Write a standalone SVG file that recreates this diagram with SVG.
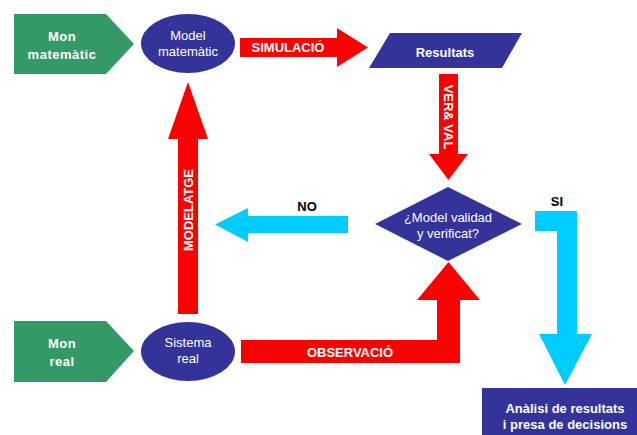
<svg xmlns="http://www.w3.org/2000/svg" width="637" height="435" viewBox="0 0 637 435">
<style>
.green{fill:#339966}
.navy{fill:#333399}
.red{fill:#ff0000}
.cyan{fill:#00ccff}
text{font-family:"Liberation Sans",Arial,sans-serif;font-size:13px;text-anchor:middle}
.wb{fill:#ffffff;font-weight:bold}
.wn{fill:#ffffff}
.kb{fill:#000000;font-weight:bold}
</style>
<rect width="637" height="435" fill="#ffffff"/>
<g id="connectors">
  <g id="simulacio">
    <polygon class="red" points="240,38 337,38 337,28 368,47.5 337,67 337,57 240,57"/>
    <text class="wb" x="288" y="52">SIMULACIÓ</text>
  </g>
  <g id="verval">
    <polygon class="red" points="439,74 458,74 458,154 468,154 448.5,180 429,154 439,154"/>
    <text class="wb" transform="translate(443.5,117) rotate(90)">VER&amp; VAL</text>
  </g>
  <g id="modelatge">
    <polygon class="red" points="178,314 198,314 198,139 208,139 188,82 168,139 178,139"/>
    <text class="wb" transform="translate(193,210) rotate(-90)">MODELATGE</text>
  </g>
  <g id="observacio">
    <polygon class="red" points="241,340 437,340 437,300 417,300 448.5,262 480,300 460,300 460,363 241,363"/>
    <text class="wb" x="350" y="357">OBSERVACIÓ</text>
  </g>
  <g id="no">
    <polygon class="cyan" points="348,216 248,216 248,208 215,224.5 248,242 248,233 348,233"/>
    <text class="kb" x="307" y="211">NO</text>
  </g>
  <g id="si">
    <polygon class="cyan" points="535,211 577,211 577,334 592,334 565,385 539,334 557,334 557,231 535,231"/>
    <text class="kb" x="557" y="206">SI</text>
  </g>
</g>
<g id="mon-matematic">
  <polygon class="green" points="14,14 106,14 134,44 106,74 14,74"/>
  <text class="wb" x="62" y="41" font-size="14" letter-spacing="0.5">Mon</text>
  <text class="wb" x="62" y="59" font-size="14" letter-spacing="0.5">matemàtic</text>
</g>
<g id="model-matematic">
  <ellipse class="navy" cx="188" cy="43.5" rx="47" ry="29.5"/>
  <text class="wn" x="188" y="40">Model</text>
  <text class="wn" x="188" y="56">matemàtic</text>
</g>
<g id="resultats">
  <polygon class="navy" points="390,33 522,33 502,68 369,68"/>
  <text class="wb" x="445" y="57" font-size="15">Resultats</text>
</g>
<g id="decisio">
  <polygon class="navy" points="448,187 522,224 448,261 375,224"/>
  <text class="wn" x="448" y="222">¿Model validad</text>
  <text class="wn" x="448" y="238">y verificat?</text>
</g>
<g id="mon-real">
  <polygon class="green" points="14,321 106,321 134,351 106,382 14,382"/>
  <text class="wb" x="62" y="348" font-size="14" letter-spacing="0.5">Mon</text>
  <text class="wb" x="62" y="366" font-size="14" letter-spacing="0.5">real</text>
</g>
<g id="sistema-real">
  <ellipse class="navy" cx="188" cy="351.5" rx="47" ry="29.5"/>
  <text class="wn" x="188" y="347">Sistema</text>
  <text class="wn" x="188" y="363">real</text>
</g>
<g id="analisi">
  <rect class="navy" x="482" y="388" width="155" height="47"/>
  <text class="wb" x="565" y="413">Anàlisi de resultats</text>
  <text class="wb" x="565" y="429">i presa de decisions</text>
</g>
</svg>
